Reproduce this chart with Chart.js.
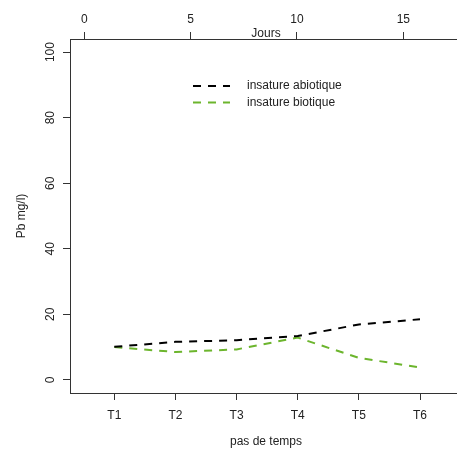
<!DOCTYPE html>
<html lang="fr">
<head>
  <meta charset="UTF-8">
  <title>Pb mg/l</title>
  <script src="https://cdn.jsdelivr.net/npm/chart.js"></script>
  <style>
    html, body { margin: 0; padding: 0; background: #fff; overflow: hidden; }
    canvas { display: block; }
  </style>
</head>
<body>
  <canvas id="myChart" width="466" height="454"></canvas>

  <script>
    // valeurs
    const categories = ["T1", "T2", "T3", "T4", "T5", "T6"];
    const abiotique = [10.1, 11.6, 12.1, 13.4, 16.9, 18.5];
    const biotique = [10.0, 8.5, 9.3, 12.9, 6.7, 3.8];
    const jourTicks = [0, 5, 10, 15];
    const yTicks = [0, 20, 40, 60, 80, 100];

    const toPoints = arr => arr.map((v, i) => ({ x: i + 1, y: v }));

    Chart.defaults.font.family = '"Liberation Sans", Arial, sans-serif';
    Chart.defaults.font.size = 12;
    Chart.defaults.color = "#222";

    const axisGrid = { drawOnChartArea: false, drawTicks: true, tickLength: 7, color: "#333" };
    const axisBorder = { color: "#333", width: 1 };

    // légende dessinée à la manière de R (sans cadre)
    const legendPlugin = {
      id: "rLegend",
      afterDatasetsDraw(chart) {
        const ctx = chart.ctx;
        const a = chart.chartArea;
        chart.data.datasets.forEach((ds, i) => {
          const y = a.top + 47 + i * 16.5;
          const x0 = a.left + 123;
          ctx.save();
          ctx.strokeStyle = ds.borderColor;
          ctx.lineWidth = 2;
          ctx.setLineDash([8, 7]);
          ctx.beginPath();
          ctx.moveTo(x0, y);
          ctx.lineTo(x0 + 37, y);
          ctx.stroke();
          ctx.setLineDash([]);
          ctx.fillStyle = "#222";
          ctx.font = '12px "Liberation Sans", Arial, sans-serif';
          ctx.textBaseline = "middle";
          ctx.fillText(ds.label, x0 + 54, y);
          ctx.restore();
        });
      }
    };

    new Chart(document.getElementById("myChart"), {
      type: "line",
      data: {
        datasets: [
          { label: "insature abiotique", data: toPoints(abiotique), borderColor: "#000000", borderWidth: 2, borderDash: [8, 7], pointRadius: 0, tension: 0 },
          { label: "insature biotique", data: toPoints(biotique), borderColor: "#6cb52d", borderWidth: 2, borderDash: [8, 7], pointRadius: 0, tension: 0 }
        ]
      },
      options: {
        responsive: false,
        animation: false,
        layout: { padding: { left: 0, right: 4, top: 0, bottom: 0 } },
        plugins: { legend: { display: false }, tooltip: { enabled: false } },
        scales: {
          x: {
            type: "linear",
            position: "bottom",
            min: 0.275,
            max: 6.687,
            afterBuildTicks: s => { s.ticks = categories.map((c, i) => ({ value: i + 1 })); },
            afterFit: s => { s.height = 61; },
            ticks: { callback: v => categories[v - 1], padding: 8, maxRotation: 0, autoSkip: false },
            grid: axisGrid,
            border: axisBorder,
            title: { display: true, text: "pas de temps", padding: { top: 0, bottom: 5 } }
          },
          x2: {
            type: "linear",
            position: "top",
            min: -0.672,
            max: 17.76,
            afterBuildTicks: s => { s.ticks = jourTicks.map(v => ({ value: v })); },
            afterFit: s => { s.height = 39; },
            ticks: { padding: 5, maxRotation: 0, autoSkip: false },
            grid: axisGrid,
            border: axisBorder,
            title: { display: true, text: "Jours", padding: { top: 26, bottom: 0 } }
          },
          y: {
            type: "linear",
            position: "left",
            min: -4,
            max: 104,
            afterBuildTicks: s => { s.ticks = yTicks.map(v => ({ value: v })); },
            afterFit: s => { s.width = 70; },
            ticks: { padding: 2, minRotation: 90, maxRotation: 90, crossAlign: "center", autoSkip: false },
            grid: axisGrid,
            border: axisBorder,
            title: { display: true, text: "Pb mg/l)", padding: { top: 14, bottom: 0 } }
          }
        }
      },
      plugins: [legendPlugin]
    });
  </script>
</body>
</html>
